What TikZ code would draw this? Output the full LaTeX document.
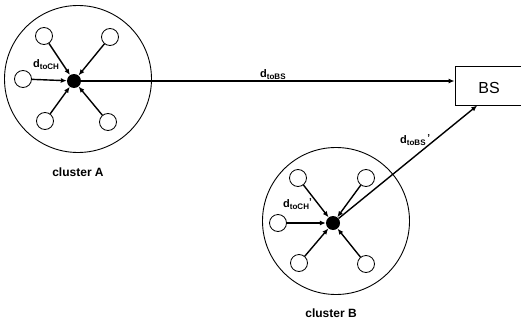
\documentclass[tikz,border=0pt]{standalone}
\usepackage{fontspec}
\setmainfont{Liberation Sans}
\usetikzlibrary{arrows.meta,calc}
\newcommand{\dlab}[2]{\bfseries{\fontsize{11}{12}\selectfont d}\raisebox{-2pt}{\fontsize{8}{8}\selectfont #1}#2}
\newcommand{\primemark}{\raisebox{2pt}{\fontsize{10}{10}\selectfont\bfseries '}}
\tikzset{
  big/.style={circle,draw,line width=0.9pt,minimum size=147pt,inner sep=0pt},
  member/.style={circle,draw,line width=0.8pt,minimum size=17pt,inner sep=0pt},
  head/.style={circle,fill=black,minimum size=14pt,inner sep=0pt},
  arr/.style={line width=1.4pt,-{Latex[length=6pt,width=5pt]}},
  lbl/.style={inner sep=0pt,anchor=base west},
  clustercap/.style={font=\fontsize{12}{14}\selectfont\bfseries,inner sep=0pt},
  bsbox/.style={rectangle,draw,line width=0.9pt,minimum width=68pt,minimum height=39pt,inner sep=0pt}
}
\begin{document}
\begin{tikzpicture}[x=1pt,y=-1pt]
\useasboundingbox (0,0) rectangle (521,321);
% cluster A
\node[big] (cA) at (78,79) {};
\node[head] (chA) at (74,81) {};
\node[member] (a1) at (44,36) {};
\node[member] (a2) at (110,37) {};
\node[member] (a3) at (23,79) {};
\node[member] (a4) at (45,121) {};
\node[member] (a5) at (108,122) {};
\foreach \m in {a1,a2,a3,a4,a5} \draw[arr] (\m) -- (chA);
\node[lbl] (lA) at (33,67) {\dlab{toCH}{}};
\node[clustercap] (capA) at (78,172) {cluster A};
% cluster B
\node[big] (cB) at (336,221) {};
\node[head] (chB) at (333,223) {};
\node[member] (b1) at (298,178) {};
\node[member] (b2) at (366,178) {};
\node[member] (b3) at (278,223) {};
\node[member] (b4) at (299,263) {};
\node[member] (b5) at (366,264) {};
\foreach \m in {b1,b2,b3,b4,b5} \draw[arr] (\m) -- (chB);
\node[lbl] (lB) at (283,207) {\dlab{toCH}{\primemark}};
\node[clustercap] (capB) at (331,313) {cluster B};
% base station
\node[bsbox] (bs) at (489,85.5) {};
\node[font=\fontsize{16}{18}\selectfont,inner sep=0pt] (bst) at (489,88) {BS};
\draw[arr] (chA) -- (bs.west |- chA);
\draw[arr] (chB) -- ($(bs.south west)!0.33!(bs.south east)$);
\node[lbl] (lAB) at (260,77) {\dlab{toBS}{}};
\node[lbl] (lBB) at (400,143) {\dlab{toBS}{\,\primemark}};
\end{tikzpicture}
\end{document}
